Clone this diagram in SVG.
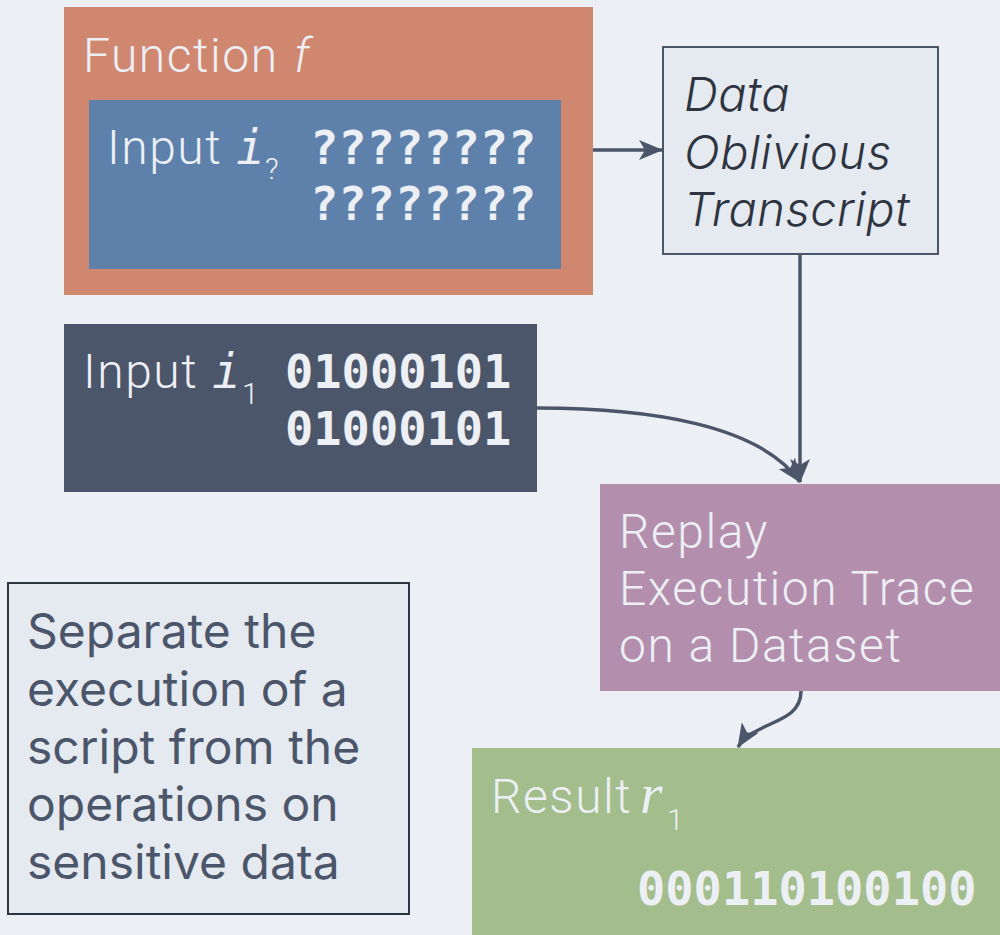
<svg xmlns="http://www.w3.org/2000/svg" width="1000" height="935" viewBox="0 0 1000 935">
  <defs>
    <marker id="arrowL" viewBox="0 0 24 20" refX="23" refY="10" markerWidth="24" markerHeight="20" markerUnits="userSpaceOnUse" orient="auto">
      <path d="M0,0 L24,10 L0,20 L6,10 z" fill="#4c566a"/>
    </marker>
  </defs>
  <style>
    .label { font-family: Roboto, "Liberation Sans", sans-serif; font-weight: 300; font-size: 48px; letter-spacing: 1.5px; fill: #eceff4; }
    .mono { font-family: "DejaVu Sans Mono", "Liberation Mono", monospace; font-weight: bold; font-size: 47px; fill: #eceff4; }
    .mathi { font-family: "DejaVu Sans Mono", monospace; font-style: italic; font-weight: normal; font-size: 48px; fill: #eceff4; }
    .maths { font-family: "Liberation Serif", serif; font-style: italic; font-size: 58px; fill: #eceff4; }
    .sub { font-family: Roboto, "Liberation Sans", sans-serif; font-weight: 300; font-size: 30px; fill: #eceff4; }
    .note { font-family: Inter, "Liberation Sans", sans-serif; font-size: 48px; fill: #4c566a; }
    .ital { font-family: Inter, "Liberation Sans", sans-serif; font-style: italic; font-weight: 300; font-size: 47px; letter-spacing: 0.5px; fill: #2e3440; }
    .edge { fill: none; stroke: #4c566a; stroke-width: 3.5; }
  </style>
  <rect width="1000" height="935" fill="#eceff4"/>

  <g id="function-f">
    <rect x="64" y="7" width="529" height="288" fill="#d08770"/>
    <text class="label" x="83" y="72">Function</text>
    <text class="label" x="294" y="72" font-style="italic">f</text>
  </g>

  <g id="input-unknown">
    <rect x="89" y="100" width="472" height="169" fill="#5e81ac"/>
    <text class="label" x="107" y="164">Input</text>
    <text class="mathi" x="236" y="164">i</text>
    <text class="sub" x="265" y="179">?</text>
    <text class="mono" x="310" y="164">????????</text>
    <text class="mono" x="310" y="220">????????</text>
  </g>

  <g id="transcript">
    <rect x="663" y="47" width="275" height="207" fill="#e5e9f0" stroke="#4c566a" stroke-width="2"/>
    <text class="ital" x="684" y="111">Data</text>
    <text class="ital" x="684" y="169">Oblivious</text>
    <text class="ital" x="684" y="226">Transcript</text>
  </g>

  <g id="input-1">
    <rect x="64" y="324" width="473" height="168" fill="#4c566a"/>
    <text class="label" x="83" y="388">Input</text>
    <text class="mathi" x="212" y="388">i</text>
    <text class="sub" x="242" y="404">1</text>
    <text class="mono" x="285" y="388">01000101</text>
    <text class="mono" x="285" y="445">01000101</text>
  </g>

  <g id="replay">
    <rect x="600" y="484" width="400" height="207" fill="#b48ead"/>
    <text class="label" x="619" y="548">Replay</text>
    <text class="label" x="619" y="605">Execution Trace</text>
    <text class="label" x="619" y="662">on a Dataset</text>
  </g>

  <g id="result">
    <rect x="472" y="748" width="528" height="187" fill="#a3be8c"/>
    <text class="label" x="491" y="813">Result</text>
    <text class="maths" x="640" y="813">r</text>
    <text class="sub" x="667" y="830">1</text>
    <text class="mono" x="637" y="905">000110100100</text>
  </g>

  <g id="note">
    <rect x="8" y="583" width="401" height="331" fill="#e5e9f0" stroke="#2e3440" stroke-width="2"/>
    <text class="note" x="27" y="648">Separate the</text>
    <text class="note" x="27" y="706">execution of a</text>
    <text class="note" x="27" y="764">script from the</text>
    <text class="note" x="27" y="821">operations on</text>
    <text class="note" x="27" y="879">sensitive data</text>
  </g>

  <g id="connectors">
    <path class="edge" d="M593,150 L662,150" marker-end="url(#arrowL)"/>
    <path class="edge" d="M800,254 L800,482" marker-end="url(#arrowL)"/>
    <path class="edge" d="M537,408 C650,408 760,425 800,482" marker-end="url(#arrowL)"/>
    <path class="edge" d="M801,691 C801,725 755,720 738,747" marker-end="url(#arrowL)"/>
  </g>
</svg>
